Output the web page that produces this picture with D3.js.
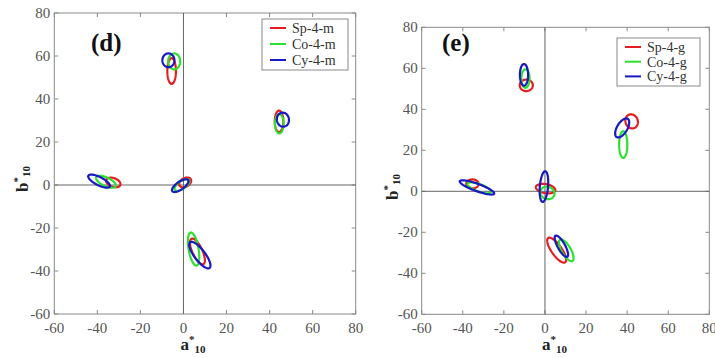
<!DOCTYPE html>
<html>
<head>
<meta charset="utf-8">
<script src="https://cdn.jsdelivr.net/npm/d3@7"></script>
<style>
  body { margin: 0; background: #fff; }
  svg { display: block; }
  .tick-label { font-family: "Liberation Serif", "Times New Roman", serif; font-size: 15px; fill: #555; }
  .leg-text { font-family: "Liberation Serif", "Times New Roman", serif; font-size: 14px; fill: #333; }
  .ax-title { font-family: "Liberation Serif", "Times New Roman", serif; font-weight: bold; fill: #222; }
  .panel-label { font-family: "Liberation Serif", "Times New Roman", serif; font-weight: bold; font-size: 25px; fill: #111; }
</style>
</head>
<body>
<script>
// tick values shared by both panels
var ticks = [-60, -40, -20, 0, 20, 40, 60, 80];
var colors = ["#e41e1e", "#2de02d", "#1818c4"];

// ellipses: [a*, b*, semi axis 1, semi axis 2, angle in degrees]
// panel (d)
var legendM = ["Sp-4-m", "Co-4-m", "Cy-4-m"];
var spM = [[-5.5, 53, 2, 6, 0], [44.4, 29.6, 2, 5, 0], [-32.6, 1.2, 3.5, 2, -20], [0.8, 1.2, 3, 2, 30], [6.5, -30.9, 6.5, 2.3, -65]];
var coM = [[-4.3, 57.5, 2.8, 3.7, 0], [44.5, 28.5, 2, 4.5, 0], [-36, 1.5, 5, 2, -25], [-0.7, 0, 4, 1.8, 35], [4.7, -29.8, 7.8, 2.3, -80]];
var cyM = [[-7, 58, 2.8, 3.2, 0], [46.2, 30.4, 2.8, 3.3, 10], [-39.2, 1.8, 5.6, 1.9, -27], [-1.5, -0.3, 4.5, 1.8, 35], [7.6, -32.6, 7.5, 2.5, -53]];

// panel (e)
var legendG = ["Sp-4-g", "Co-4-g", "Cy-4-g"];
var spG = [[-9.1, 51.7, 3.2, 2.8, 0], [42.2, 34.1, 3, 3.5, 20], [-35.3, 3.6, 3, 2.2, 0], [0.3, 1.3, 4.8, 2.2, -10], [5.7, -28.7, 7.2, 2.5, -55]];
var coG = [[-9.5, 55, 2, 4.5, 0], [38.1, 22.8, 2, 6.5, 0], [-32, 1.7, 6, 1.8, -20], [1.2, -0.8, 3.5, 3, -20], [10.4, -28.8, 6, 2.2, -60]];
var cyG = [[-10.2, 56.8, 2, 5.3, 0], [37.6, 30.9, 5.2, 2.5, 59], [-33.1, 1.9, 8.9, 1.8, -20], [-0.5, 2.3, 7.5, 2, 85], [8.0, -26.8, 5.9, 1.8, -61]];

var svg = d3.select("body").append("svg")
    .attr("width", 715)
    .attr("height", 358);

function ellipsePath(e, x, y) {
  var t = e[4] * Math.PI / 180;
  var pts = d3.range(0, 73).map(function(i) {
    var s = i / 72 * 2 * Math.PI;
    var dx = e[2] * Math.cos(s), dy = e[3] * Math.sin(s);
    return [x(e[0] + dx * Math.cos(t) - dy * Math.sin(t)),
            y(e[1] + dx * Math.sin(t) + dy * Math.cos(t))];
  });
  return d3.line().curve(d3.curveLinearClosed)(pts);
}

function drawPanel(p) {
  var x = d3.scaleLinear().domain([-60, 80]).range([p.x0, p.x1]);
  var y = d3.scaleLinear().domain([-60, 80]).range([p.y0, p.y1]);
  var g = svg.append("g");

  // box
  g.append("rect")
    .attr("x", p.x0).attr("y", p.y1)
    .attr("width", p.x1 - p.x0).attr("height", p.y0 - p.y1)
    .attr("fill", "none").attr("stroke", "#8a8a8a").attr("stroke-width", 1);

  // inward ticks on all four sides
  var len = 4;
  ticks.forEach(function(v) {
    g.append("line").attr("x1", x(v)).attr("x2", x(v)).attr("y1", p.y0).attr("y2", p.y0 - len).attr("stroke", "#8a8a8a");
    g.append("line").attr("x1", x(v)).attr("x2", x(v)).attr("y1", p.y1).attr("y2", p.y1 + len).attr("stroke", "#8a8a8a");
    g.append("line").attr("y1", y(v)).attr("y2", y(v)).attr("x1", p.x0).attr("x2", p.x0 + len).attr("stroke", "#8a8a8a");
    g.append("line").attr("y1", y(v)).attr("y2", y(v)).attr("x1", p.x1).attr("x2", p.x1 - len).attr("stroke", "#8a8a8a");
  });

  g.selectAll(".xl").data(ticks).enter().append("text")
    .attr("class", "tick-label")
    .attr("x", function(d) { return x(d); })
    .attr("y", p.y0 + 19)
    .attr("text-anchor", "middle")
    .text(function(d) { return d; });

  g.selectAll(".yl").data(ticks).enter().append("text")
    .attr("class", "tick-label")
    .attr("x", p.x0 - 4)
    .attr("y", function(d) { return y(d) + 5; })
    .attr("text-anchor", "end")
    .text(function(d) { return d; });

  // zero lines
  g.append("line").attr("x1", x(0)).attr("x2", x(0)).attr("y1", p.y0).attr("y2", p.y1)
    .attr("stroke", "#666").attr("stroke-width", 1);
  g.append("line").attr("x1", p.x0).attr("x2", p.x1).attr("y1", y(0)).attr("y2", y(0))
    .attr("stroke", "#666").attr("stroke-width", 1);

  // ellipses
  p.series.forEach(function(s, i) {
    g.selectAll(".e" + i).data(s).enter().append("path")
      .attr("d", function(d) { return ellipsePath(d, x, y); })
      .attr("fill", "none")
      .attr("stroke", colors[i])
      .attr("stroke-width", 2.2);
  });

  // axis titles
  var xt = g.append("text").attr("class", "ax-title")
    .attr("x", x(0) - 3).attr("y", 350).attr("font-size", "17px");
  xt.append("tspan").text("a");
  xt.append("tspan").attr("dy", -7).attr("font-size", "11px").text("*");
  xt.append("tspan").attr("dy", 10).attr("font-size", "11px").text("10");

  var yt = g.append("text").attr("class", "ax-title")
    .attr("transform", "translate(" + p.bx + "," + p.by + ") rotate(-90)")
    .attr("font-size", "17px");
  yt.append("tspan").text("b");
  yt.append("tspan").attr("dy", -7).attr("font-size", "11px").text("*");
  yt.append("tspan").attr("dy", 9).attr("font-size", "11px").text("10");

  g.append("text").attr("class", "panel-label")
    .attr("x", p.lx).attr("y", p.ly).text(p.label);

  // legend
  g.append("rect")
    .attr("x", p.legX).attr("y", p.legY)
    .attr("width", p.legW).attr("height", p.legH)
    .attr("fill", "#fff").attr("stroke", "#8a8a8a");
  p.legend.forEach(function(t, i) {
    var yy = p.legY + 9 + i * p.legStep;
    g.append("line")
      .attr("x1", p.legX + 8).attr("x2", p.legX + 24)
      .attr("y1", yy).attr("y2", yy)
      .attr("stroke", colors[i]).attr("stroke-width", 2);
    g.append("text").attr("class", "leg-text")
      .attr("x", p.legX + 30).attr("y", yy + 5).text(t);
  });
}

drawPanel({
  x0: 54.3, x1: 355.7, y0: 314, y1: 13,
  series: [spM, coM, cyM], legend: legendM, label: "(d)",
  lx: 91, ly: 51, bx: 28, by: 192,
  legX: 262, legY: 19, legW: 86, legH: 51, legStep: 16
});

drawPanel({
  x0: 421.7, x1: 709.3, y0: 314.3, y1: 27.3,
  series: [spG, coG, cyG], legend: legendG, label: "(e)",
  lx: 442, ly: 51, bx: 398, by: 200,
  legX: 617, legY: 38, legW: 83, legH: 48, legStep: 14.7
});
</script>
</body>
</html>
